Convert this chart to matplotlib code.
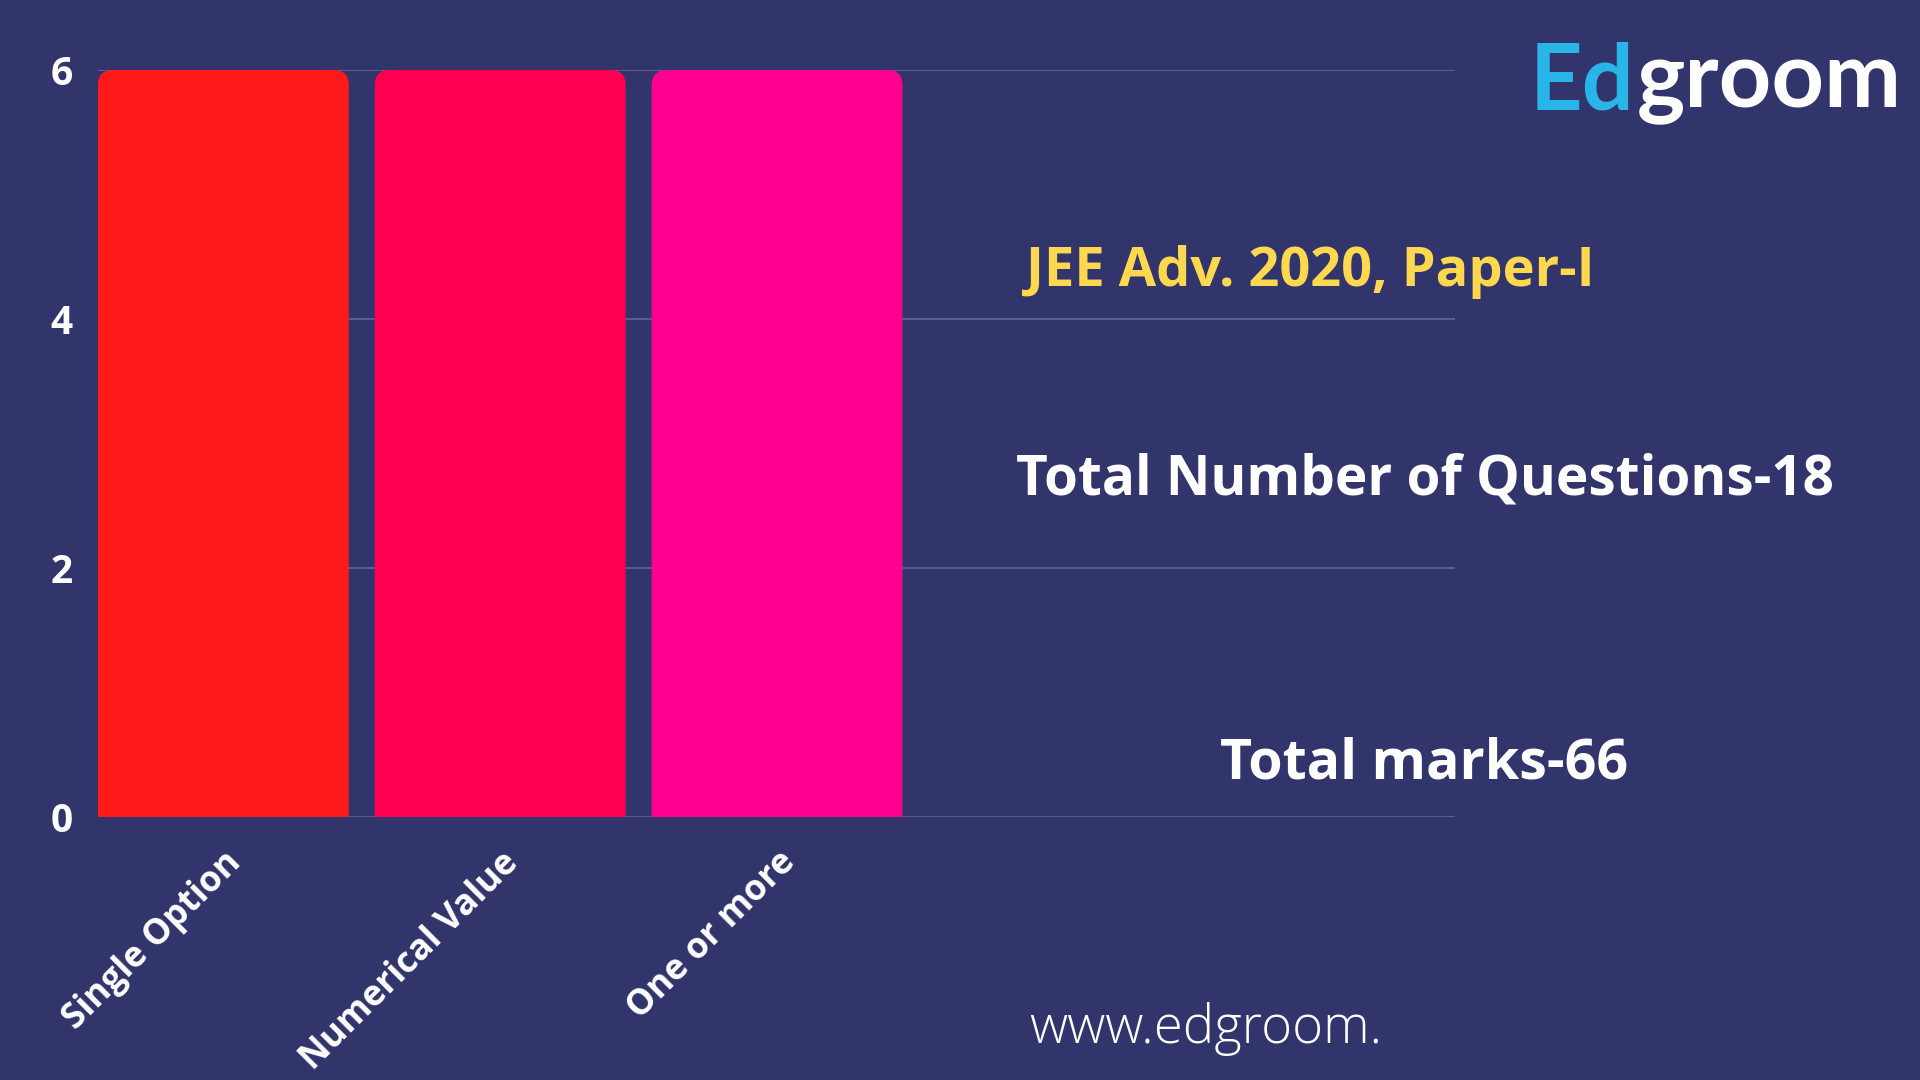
import matplotlib.pyplot as plt
from matplotlib.patches import FancyBboxPatch

# data
categories = ['Single Option', 'Numerical Value', 'One or more']
questions = [6, 6, 6]
bar_colors = ['#FF1A1A', '#FF0050', '#FF0090']
y_ticks = [0, 2, 4, 6]

bg = '#31356B'
grid_col = '#575C92'

fig = plt.figure(figsize=(19.2, 10.8), dpi=100, facecolor=bg)
ax = fig.add_axes([0.051, 0.2435, 0.707, 0.6917])
ax.set_facecolor(bg)

bars = ax.bar(range(len(categories)), questions, width=0.906, color=bar_colors, zorder=3)

# rounded top corners: swap each bar for a rounded box that dips below 0 (clipped)
for b, c in zip(bars, bar_colors):
    b.set_visible(False)
    r = 0.055
    box = FancyBboxPatch((b.get_x() + r, -0.5), b.get_width() - 2 * r, b.get_height() + 0.5 - r * 2.225,
                         boxstyle=f'round,pad={r}', mutation_aspect=2.225,
                         facecolor=c, edgecolor='none', zorder=3, clip_on=True)
    ax.add_patch(box)

ax.set_xlim(-0.453, 4.45)
ax.set_ylim(0, 6)
ax.set_yticks(y_ticks)
ax.set_yticklabels([str(t) for t in y_ticks])
ax.grid(axis='y', color=grid_col, linewidth=1.5, zorder=0)
ax.grid(axis='x', visible=False)
for s in ax.spines.values():
    s.set_visible(False)
ax.tick_params(length=0, colors='white')
ax.tick_params(axis='y', pad=18, labelsize=28)
for lbl in ax.get_yticklabels():
    lbl.set_fontfamily('Open Sans')
    lbl.set_fontweight('bold')

ax.set_xticks(range(len(categories)))
ax.set_xticklabels(categories, rotation=45, ha='right', va='top',
                   rotation_mode='anchor', fontsize=25.5, fontweight='bold',
                   fontfamily='Open Sans', color='white')
ax.tick_params(axis='x', pad=20)

# side annotations
fig.text(1310 / 1920, 1 - 272 / 1080, 'JEE Adv. 2020, Paper-I', color='#FFD84F',
         fontsize=39, fontweight='bold', fontfamily='Open Sans', ha='center', va='center')
fig.text(1425 / 1920, 1 - 480 / 1080, 'Total Number of Questions-18', color='white',
         fontsize=39.5, fontweight='bold', fontfamily='Open Sans', ha='center', va='center')
fig.text(1424 / 1920, 1 - 764 / 1080, 'Total marks-66', color='white',
         fontsize=40, fontweight='bold', fontfamily='Open Sans', ha='center', va='center')
fig.text(1206 / 1920, 1 - 1029 / 1080, 'www.edgroom.', color='white',
         fontsize=38, fontweight='light', fontfamily='Open Sans', ha='center', va='center')

# logo
ed = fig.text(1530 / 1920, 1 - 83 / 1080, 'Ed', color='#29B5E8', fontsize=66,
              fontweight='bold', fontfamily='Lato', ha='left', va='center')
fig.canvas.draw()
bb = ed.get_window_extent()
fig.text((bb.x1 + 2) / 1920, 1 - 83 / 1080, 'groom', color='white', fontsize=66,
         fontweight='bold', fontfamily='Lato', ha='left', va='center')

fig.savefig('out.png', dpi=100, facecolor=bg)
